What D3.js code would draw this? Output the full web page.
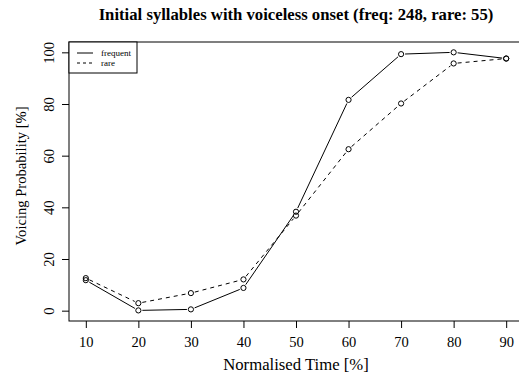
<!DOCTYPE html>
<html><head><meta charset="utf-8">
<script src="https://cdn.jsdelivr.net/npm/d3@7"></script>
<style>body{margin:0;background:#fff;} svg{display:block;}</style>
</head><body>
<svg id="c" width="519" height="377"></svg>
<script>
const times = [10,20,30,40,50,60,70,80,90];
const frequent = [11.8,0.1,0.5,8.8,38.3,81.6,99.3,100,97.6];
const rare = [12.6,2.9,6.8,12.1,36.8,62.5,80.2,95.7,97.6];
const xTicks = [10,20,30,40,50,60,70,80,90];
const yTicks = [0,20,40,60,80,100];
const seriesNames = ["frequent","rare"];

const svg = d3.select("#c");
const L=69, R=523, T=42, B=321;
const x = d3.scaleLinear().domain([6.8,93.2]).range([L,R]);
const y = d3.scaleLinear().domain([-4,104]).range([B,T]);
const font = "'Liberation Serif','Times New Roman',serif";

svg.append("rect").attr("x",L).attr("y",T).attr("width",R-L).attr("height",B-T)
  .attr("fill","none").attr("stroke","#000").attr("stroke-width",1);

const xa = svg.append("g").attr("transform",`translate(0,${B})`)
  .call(d3.axisBottom(x).tickValues(xTicks).tickSize(7));
xa.select(".domain").remove();
xa.selectAll("text").attr("font-family",font).attr("font-size",14.5).attr("fill","#000")
  .attr("y",26).attr("dy",null);

const ya = svg.append("g").attr("transform",`translate(${L},0)`)
  .call(d3.axisLeft(y).tickValues(yTicks).tickSize(7));
ya.select(".domain").remove();
ya.selectAll("text").attr("font-family",font).attr("font-size",14.5).attr("fill","#000")
  .attr("text-anchor","middle").attr("dy",null).attr("x",0)
  .attr("transform","translate(-15.5,0) rotate(-90)");

function drawSeries(vals, dash){
  const g = svg.append("g");
  const pts = times.map((t,i)=>[x(t),y(vals[i])]);
  const gap = 4;
  for(let i=0;i<pts.length-1;i++){
    const [x1,y1]=pts[i],[x2,y2]=pts[i+1];
    const dx=x2-x1, dy=y2-y1, len=Math.hypot(dx,dy);
    if(len<=2*gap) continue;
    const ux=dx/len, uy=dy/len;
    g.append("line").attr("x1",x1+ux*gap).attr("y1",y1+uy*gap)
      .attr("x2",x2-ux*gap).attr("y2",y2-uy*gap)
      .attr("stroke","#000").attr("stroke-width",1)
      .attr("stroke-dasharray",dash);
  }
  g.selectAll("circle").data(pts).join("circle")
    .attr("cx",d=>d[0]).attr("cy",d=>d[1]).attr("r",2.6)
    .attr("fill","none").attr("stroke","#000").attr("stroke-width",1);
}
drawSeries(frequent,null);
drawSeries(rare,"4,4");

svg.append("text").attr("x",(L+R)/2).attr("y",20).attr("text-anchor","middle")
  .attr("font-family",font).attr("font-weight","bold").attr("font-size",16.7)
  .text("Initial syllables with voiceless onset (freq: 248, rare: 55)");
svg.append("text").attr("x",(L+R)/2).attr("y",370).attr("text-anchor","middle")
  .attr("font-family",font).attr("font-size",16.7).text("Normalised Time [%]");
svg.append("text").attr("transform",`translate(26,176) rotate(-90)`)
  .attr("text-anchor","middle").attr("font-family",font).attr("font-size",14.6)
  .text("Voicing Probability [%]");

// legend
const lg = svg.append("g");
lg.append("rect").attr("x",L).attr("y",T).attr("width",68).attr("height",31)
  .attr("fill","#fff").attr("stroke","#000").attr("stroke-width",1);
seriesNames.forEach((n,i)=>{
  const yy = T+11+i*10;
  lg.append("line").attr("x1",77).attr("x2",93).attr("y1",yy).attr("y2",yy)
    .attr("stroke","#000").attr("stroke-dasharray",i?"3,3":null);
  lg.append("text").attr("x",101).attr("y",yy+2.5).attr("font-family",font)
    .attr("font-size",9).text(n);
});
</script>
</body></html>
